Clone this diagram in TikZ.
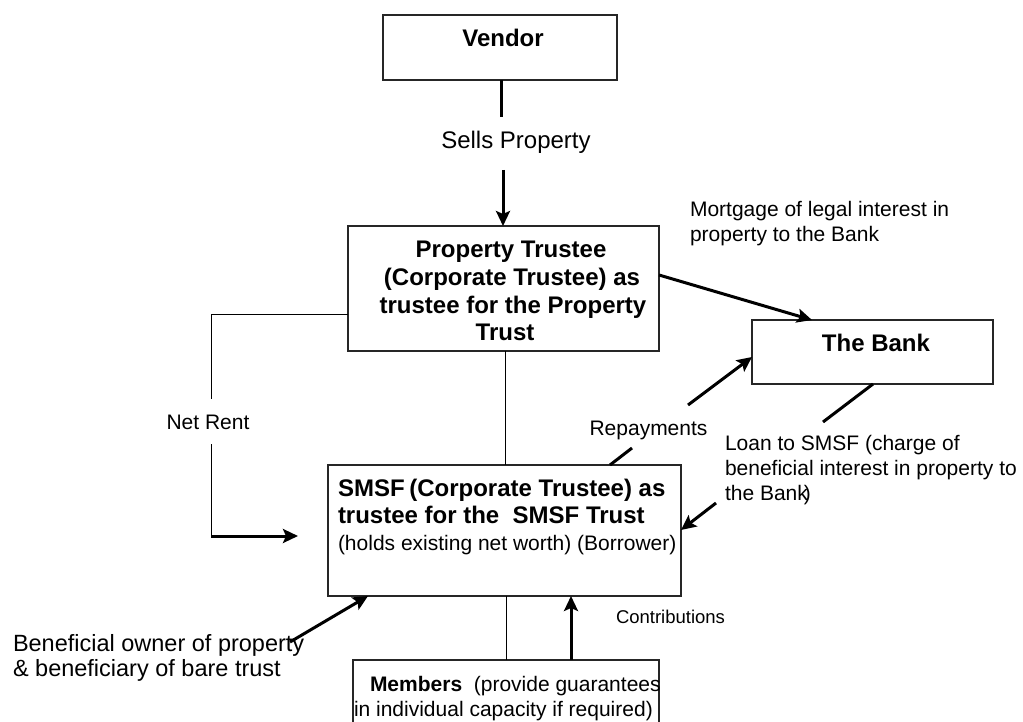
\documentclass[tikz,border=0pt]{standalone}
\usepackage{fontspec}
\setmainfont{Liberation Sans}
\usetikzlibrary{arrows.meta}
\tikzset{
  box/.style={draw=black!85, line width=1.2pt, inner sep=0pt, outer sep=0pt},
  conn/.style={line width=1pt},
  heavy/.style={line width=3pt},
  arr/.style={line width=3pt, -{Stealth[length=15pt,width=14pt,inset=3pt]}},
  txt/.style={inner sep=0pt, outer sep=0pt},
  b24/.style={txt, font=\fontsize{24}{28}\selectfont\bfseries},
  r24/.style={txt, font=\fontsize{24}{28}\selectfont},
  r235/.style={txt, font=\fontsize{23.5}{28}\selectfont},
  r21/.style={txt, font=\fontsize{21}{25}\selectfont},
  r185/.style={txt, font=\fontsize{18.5}{22}\selectfont}
}
\begin{document}
\begin{tikzpicture}[x=1pt,y=-1pt]
\useasboundingbox (0,0) rectangle (1023,722);
\fill[white] (0,0) rectangle (1023,722);
\clip (0,0) rectangle (1023,722);

% boxes
\node[box, minimum width=234pt, minimum height=65pt] (vendor) at (500,47.5) {};
\node[box, minimum width=311pt, minimum height=125pt] (prop) at (503.5,288.5) {};
\node[box, minimum width=241pt, minimum height=64pt] (bank) at (872.5,352) {};
\node[box, minimum width=353pt, minimum height=131pt] (smsf) at (504.5,530.5) {};
\node[box, minimum width=306pt, minimum height=90pt] (members) at (506,705) {};

% texts
\node[b24, anchor=base] (vendortxt) at (503,47) {Vendor};
\node[r24, anchor=base] (sells) at (516,149) {Sells Property};
\node[b24, anchor=base] (pt1) at (511,258) {Property Trustee};
\node[b24, anchor=base] (pt2) at (512,285.5) {(Corporate Trustee) as};
\node[b24, anchor=base] (pt3) at (513,313) {trustee for the Property};
\node[b24, anchor=base] (pt4) at (505,340.5) {Trust};
\node[b24, anchor=base] (banktxt) at (876,351.5) {The Bank};
\node[r21, anchor=base west] (mort1) at (690,216.7) {Mortgage of legal interest in};
\node[r21, anchor=base west] (mort2) at (690,241.7) {property to the Bank};
\node[r21, anchor=base] (netrent) at (208,429.3) {Net Rent};
\node[r21, anchor=base] (repay) at (648.5,435) {Repayments};
\node[r21, anchor=base west] (loan1) at (725,450.7) {Loan to SMSF (charge of};
\node[r21, anchor=base west] (loan2) at (725,475.7) {beneficial interest in property to};
\node[r21, anchor=base west] (loan3) at (725,500.7) {the Bank\kern-4pt)};
\node[b24, anchor=base west] (sm1) at (338,496) {SMSF\kern-2pt\ (Corporate Trustee) as};
\node[b24, anchor=base west] (sm2) at (338,523) {trustee for the\ \ SMSF Trust};
\node[r21, anchor=base west] (sm3) at (338,550.7) {(holds existing net worth) (Borrower)};
\node[r235, anchor=base west] (ben1) at (13,651.7) {Beneficial owner of property};
\node[r235, anchor=base west] (ben2) at (13,676.7) {\& beneficiary of bare trust};
\node[r185, anchor=base west] (contrib) at (616,623.3) {Contributions};
\node[r21, anchor=base west] (mem1) at (370,691) {\textbf{Members}\ \ (provide guarantees};
\node[r21, anchor=base west] (mem2) at (354,716.7) {in individual capacity if required)};

% coordinates
\coordinate (v1) at (501,117);
\coordinate (v2) at (503,170);
\coordinate (nrA) at (211,314);
\coordinate (nrB) at (211,399);
\coordinate (nrC) at (211,444);
\coordinate (nrD) at (211,536);
\coordinate (nrE) at (298,536);
\coordinate (r1) at (632,448);
\coordinate (r2) at (688,405);
\coordinate (l1) at (823,422);
\coordinate (l2) at (716,503);
\coordinate (b0) at (290,642);

% connectors
\draw[heavy] (vendor.south -| v1) -- (v1);
\draw[arr] (v2) -- (v2 |- prop.north);
\draw[arr] (prop.east |- 0,275) -- (bank.north -| 812,0);
\draw[conn] (prop.west |- nrA) -- (nrA) -- (nrB);
\draw[conn] (nrC) -- (nrD);
\draw[arr] (nrD) -- (nrE);
\draw[conn] (prop.south -| 505,0) -- (smsf.north -| 505,0);
\draw[heavy] (smsf.north -| 610,0) -- (r1);
\draw[arr] (r2) -- (bank.west |- 0,357);
\draw[heavy] (bank.south -| 873,0) -- (l1);
\draw[arr] (l2) -- (smsf.east |- 0,530);
\draw[arr] (b0) -- (smsf.south -| 368,0);
\draw[arr] (members.north -| 571,0) -- (smsf.south -| 571,0);
\draw[conn] (smsf.south -| 506,0) -- (members.north -| 506,0);
\end{tikzpicture}
\end{document}
